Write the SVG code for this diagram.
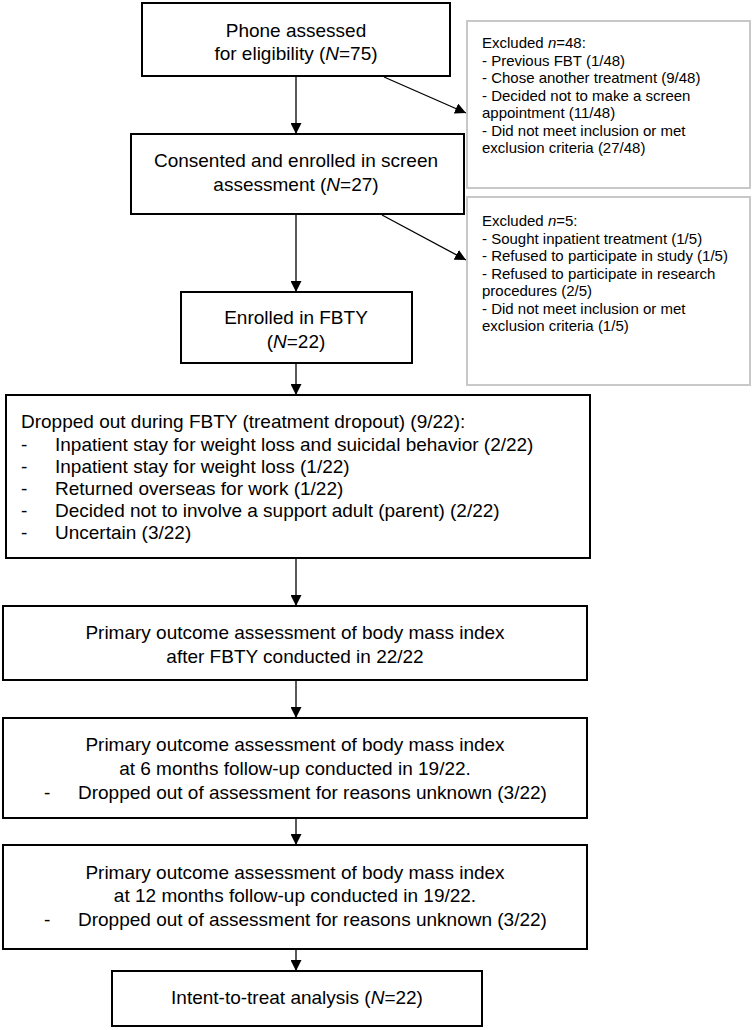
<svg xmlns="http://www.w3.org/2000/svg" width="752" height="1030" viewBox="0 0 752 1030">
<defs>
<marker id="ah" markerWidth="11" markerHeight="11" refX="11" refY="5.5" orient="auto" markerUnits="userSpaceOnUse">
<path d="M0,0 L11,5.5 L0,11 Z" fill="#000"/>
</marker>
<style>
.box{fill:#fff;stroke:#000;stroke-width:2}
.ex{fill:#fff;stroke:#c8c8c8;stroke-width:2}
.t{font-family:"Liberation Sans",Arial,sans-serif;font-size:19px;fill:#000}
.c{text-anchor:middle}
.s{font-family:"Liberation Sans",Arial,sans-serif;font-size:15px;fill:#000}
.i{font-style:italic}
.ln{stroke:#000;stroke-width:1.3;fill:none;marker-end:url(#ah)}
</style>
</defs>
<rect width="752" height="1030" fill="#fff"/>
<g id="connectors">
<line class="ln" x1="296" y1="76" x2="296" y2="134"/>
<line class="ln" x1="296" y1="214" x2="296" y2="292"/>
<line class="ln" x1="296" y1="363" x2="296" y2="395"/>
<line class="ln" x1="296" y1="558" x2="296" y2="606"/>
<line class="ln" x1="296" y1="680" x2="296" y2="718"/>
<line class="ln" x1="296" y1="815" x2="296" y2="845"/>
<line class="ln" x1="296" y1="949" x2="296" y2="971"/>
<line class="ln" x1="384" y1="77" x2="466" y2="113"/>
<line class="ln" x1="382" y1="215" x2="466" y2="260"/>
</g>
<g id="n1">
<rect class="box" x="142" y="3" width="308" height="73"/>
<text class="t c" x="296" y="37">Phone assessed</text>
<text class="t c" x="296" y="60">for eligibility (<tspan class="i">N</tspan>=75)</text>
</g>
<g id="ex1">
<rect class="ex" x="467" y="21" width="283" height="167"/>
<text class="s" x="482" y="48">Excluded <tspan class="i">n</tspan>=48:</text>
<text class="s" x="482" y="65.5">- Previous FBT (1/48)</text>
<text class="s" x="482" y="83">- Chose another treatment (9/48)</text>
<text class="s" x="482" y="100.5">- Decided not to make a screen</text>
<text class="s" x="482" y="118">appointment (11/48)</text>
<text class="s" x="482" y="135.5">- Did not meet inclusion or met</text>
<text class="s" x="482" y="153">exclusion criteria (27/48)</text>
</g>
<g id="n2">
<rect class="box" x="131" y="134" width="333" height="80"/>
<text class="t c" x="296" y="167">Consented and enrolled in screen</text>
<text class="t c" x="296" y="191">assessment (<tspan class="i">N</tspan>=27)</text>
</g>
<g id="ex2">
<rect class="ex" x="467" y="197" width="283" height="188"/>
<text class="s" x="482" y="226">Excluded <tspan class="i">n</tspan>=5:</text>
<text class="s" x="482" y="243.5">- Sought inpatient treatment (1/5)</text>
<text class="s" x="482" y="261">- Refused to participate in study (1/5)</text>
<text class="s" x="482" y="278.5">- Refused to participate in research</text>
<text class="s" x="482" y="296">procedures (2/5)</text>
<text class="s" x="482" y="313.5">- Did not meet inclusion or met</text>
<text class="s" x="482" y="331">exclusion criteria (1/5)</text>
</g>
<g id="n3">
<rect class="box" x="181" y="292" width="231" height="71"/>
<text class="t c" x="296" y="324">Enrolled in FBTY</text>
<text class="t c" x="296" y="348">(<tspan class="i">N</tspan>=22)</text>
</g>
<g id="n4">
<rect class="box" x="6" y="395" width="584" height="163"/>
<text class="t" x="21" y="428">Dropped out during FBTY (treatment dropout) (9/22):</text>
<text class="t" x="21" y="451">-</text><text class="t" x="55" y="451">Inpatient stay for weight loss and suicidal behavior (2/22)</text>
<text class="t" x="21" y="473">-</text><text class="t" x="55" y="473">Inpatient stay for weight loss (1/22)</text>
<text class="t" x="21" y="495">-</text><text class="t" x="55" y="495">Returned overseas for work (1/22)</text>
<text class="t" x="21" y="517">-</text><text class="t" x="55" y="517">Decided not to involve a support adult (parent) (2/22)</text>
<text class="t" x="21" y="539">-</text><text class="t" x="55" y="539">Uncertain (3/22)</text>
</g>
<g id="n5">
<rect class="box" x="3" y="606" width="584" height="74"/>
<text class="t c" x="295" y="639">Primary outcome assessment of body mass index</text>
<text class="t c" x="295" y="663">after FBTY conducted in 22/22</text>
</g>
<g id="n6">
<rect class="box" x="3" y="718" width="584" height="100"/>
<text class="t c" x="295" y="751">Primary outcome assessment of body mass index</text>
<text class="t c" x="295" y="775">at 6 months follow-up conducted in 19/22.</text>
<text class="t" x="44" y="799">-</text><text class="t" x="78" y="799">Dropped out of assessment for reasons unknown (3/22)</text>
</g>
<g id="n7">
<rect class="box" x="3" y="845" width="584" height="104"/>
<text class="t c" x="295" y="879">Primary outcome assessment of body mass index</text>
<text class="t c" x="295" y="902">at 12 months follow-up conducted in 19/22.</text>
<text class="t" x="44" y="926">-</text><text class="t" x="78" y="926">Dropped out of assessment for reasons unknown (3/22)</text>
</g>
<g id="n8">
<rect class="box" x="112" y="971" width="370" height="55"/>
<text class="t c" x="297" y="1004">Intent-to-treat analysis (<tspan class="i">N</tspan>=22)</text>
</g>
</svg>
